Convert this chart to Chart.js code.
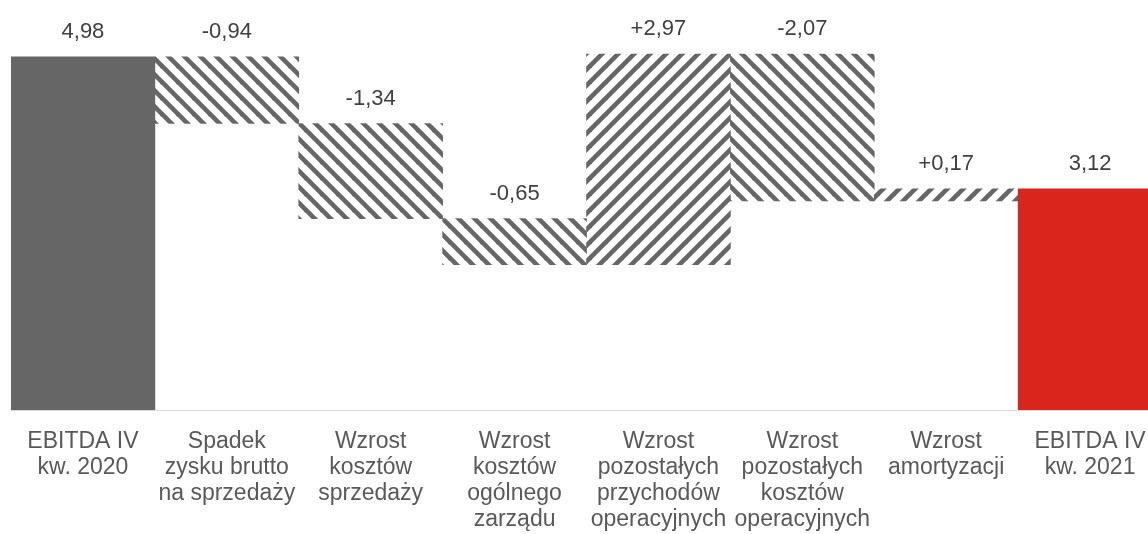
<!DOCTYPE html>
<html>
<head>
<meta charset="utf-8">
<script src="https://cdn.jsdelivr.net/npm/chart.js@4/dist/chart.umd.min.js"></script>
<style>
  html, body { margin: 0; padding: 0; background: #fff; overflow: hidden; }
  #wrap { width: 1172px; height: 534px; }
</style>
</head>
<body>
<div id="wrap"><canvas id="bridgeChart"></canvas></div>
<script>
const categories = [
  ['EBITDA IV', 'kw. 2020'],
  ['Spadek', 'zysku brutto', 'na sprzedaży'],
  ['Wzrost', 'kosztów', 'sprzedaży'],
  ['Wzrost', 'kosztów', 'ogólnego', 'zarządu'],
  ['Wzrost', 'pozostałych', 'przychodów', 'operacyjnych'],
  ['Wzrost', 'pozostałych', 'kosztów', 'operacyjnych'],
  ['Wzrost', 'amortyzacji'],
  ['EBITDA IV', 'kw. 2021'],
];
const values = [4.98, -0.94, -1.34, -0.65, 2.97, -2.07, 0.17, 3.12];
const isTotal = [true, false, false, false, false, false, false, true];

// hatch tiles, like the excel "wide diagonal" fill
function hatch(dir) {
  const c = document.createElement('canvas');
  c.width = 16; c.height = 16;
  const g = c.getContext('2d');
  g.strokeStyle = '#666666';
  g.lineWidth = 4.6;
  for (let k = -16; k <= 16; k += 16) {
    g.beginPath();
    if (dir === 'down') { g.moveTo(k - 2, -2); g.lineTo(k + 18, 18); }
    else { g.moveTo(k - 2, 18); g.lineTo(k + 18, -2); }
    g.stroke();
  }
  return g.createPattern(c, 'repeat');
}
const downHatch = hatch('down');
const upHatch = hatch('up');

// floating ranges from the running total
let running = 0;
const ranges = values.map((v, i) => {
  if (isTotal[i]) { running = v; return [0, v]; }
  const r = [running, running + v];
  running += v;
  return r;
});
const colors = values.map((v, i) => {
  if (i === 0) return '#666666';
  if (i === values.length - 1) return '#DA251D';
  return v < 0 ? downHatch : upHatch;
});

function fmt(v, total) {
  const s = Math.abs(v).toFixed(2).replace('.', ',');
  if (total) return s;
  return (v < 0 ? '-' : '+') + s;
}

const valueLabels = {
  id: 'valueLabels',
  afterDatasetsDraw(chart) {
    const ctx = chart.ctx;
    const meta = chart.getDatasetMeta(0);
    ctx.save();
    ctx.font = '22px "Liberation Sans", Arial, sans-serif';
    ctx.fillStyle = '#404040';
    ctx.textAlign = 'center';
    ctx.textBaseline = 'middle';
    meta.data.forEach((bar, i) => {
      const top = Math.min(bar.y, bar.base);
      ctx.fillText(fmt(values[i], isTotal[i]), bar.x, top - 25);
    });
    ctx.restore();
  }
};

new Chart(document.getElementById('bridgeChart'), {
  type: 'bar',
  data: {
    labels: categories,
    datasets: [{
      data: ranges,
      backgroundColor: colors,
      borderWidth: 0,
      barPercentage: 1,
      categoryPercentage: 1,
    }],
  },
  options: {
    responsive: true,
    maintainAspectRatio: false,
    animation: false,
    layout: { padding: { left: 11, right: 10, top: 20, bottom: 0 } },
    plugins: {
      legend: { display: false },
      tooltip: { enabled: false },
    },
    scales: {
      x: {
        grid: { display: false },
        border: { display: true, color: '#D9D9D9', width: 1 },
        ticks: {
          color: '#595959',
          font: { family: '"Liberation Sans", Arial, sans-serif', size: 23, lineHeight: 1.13 },
          padding: 11,
          autoSkip: false,
          maxRotation: 0,
        },
        afterFit(scale) { scale.height = 124; },
      },
      y: {
        display: false,
        min: 0,
        max: 5.5,
      },
    },
  },
  plugins: [valueLabels],
});
</script>
</body>
</html>
